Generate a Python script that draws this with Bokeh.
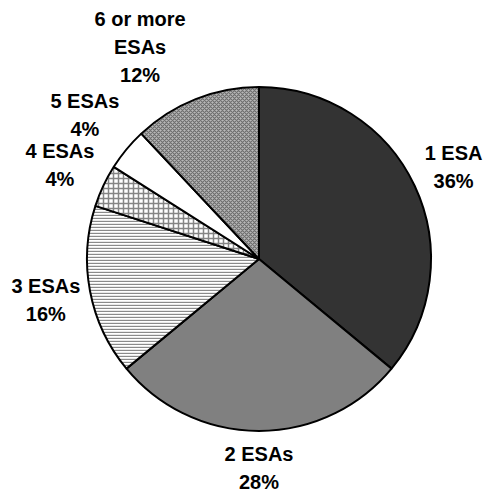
import math
from bokeh.plotting import figure
from bokeh.models import ColumnDataSource, Range1d
from bokeh.core.properties import value
from bokeh.embed import file_html
from bokeh.resources import INLINE

W, H = 484, 492

categories = ["1 ESA", "2 ESAs", "3 ESAs", "4 ESAs", "5 ESAs", "6 or more ESAs"]
shares = [36, 28, 16, 4, 4, 12]
label_lines = [["1 ESA", "36%"], ["2 ESAs", "28%"], ["3 ESAs", "16%"],
               ["4 ESAs", "4%"], ["5 ESAs", "4%"], ["6 or more", "ESAs", "12%"]]

fills = ["#333333", "#808080", "white", "white", "white", "#b8b8b8"]
hatches = [" ", " ", "-", "+", " ", "x"]
hatch_colors = ["black", "black", "#8a8a8a", "#858585", "black", "#6e6e6e"]
hatch_scales = [6, 6, 3, 5, 6, 4]
hatch_weights = [1, 1, 1.4, 1.5, 1, 1.2]
label_radius = [215, 209, 217, 220, 226, 243]
label_shift_deg = [0, 0, 0, 0, 0, -7.7]

cx, cy, R = 258.5, H - 258.5, 172.0

total = float(sum(shares))
starts, ends, mids = [], [], []
cum = 0.0
for s in shares:
    a0 = math.pi / 2 - cum / total * 2 * math.pi
    cum += s
    a1 = math.pi / 2 - cum / total * 2 * math.pi
    starts.append(a0)
    ends.append(a1)
    mids.append((a0 + a1) / 2)

src = ColumnDataSource(dict(
    cat=categories, start=starts, end=ends, fill=fills, hatch=hatches,
    hcol=hatch_colors, hscale=hatch_scales, hweight=hatch_weights,
))

p = figure(width=W, height=H, output_backend="svg", toolbar_location=None,
           x_axis_type=None, y_axis_type=None,
           x_range=Range1d(0, W), y_range=Range1d(0, H),
           min_border=0, outline_line_color=None)
p.grid.visible = False
p.background_fill_color = "white"
p.border_fill_color = "white"

p.wedge(x=cx, y=cy, radius=R, start_angle="start", end_angle="end",
        direction="clock", fill_color="fill", hatch_pattern="hatch",
        hatch_color="hcol", hatch_scale="hscale", hatch_weight="hweight",
        line_color="black", line_width=2, source=src)

tx, ty, tt = [], [], []
line_gap = 28
for i, lines in enumerate(label_lines):
    a = mids[i] - math.radians(label_shift_deg[i])
    lx = cx + label_radius[i] * math.cos(a)
    ly = cy + label_radius[i] * math.sin(a)
    n = len(lines)
    for j, t in enumerate(lines):
        tx.append(lx)
        ty.append(ly + (n - 1) / 2 * line_gap - j * line_gap)
        tt.append(t)

p.text(x=tx, y=ty, text=tt, text_align="center", text_baseline="middle",
       text_font=value("Liberation Sans"), text_font_style="bold",
       text_font_size="20px", text_color="black")

open("out.html", "w").write(file_html(p, INLINE))
